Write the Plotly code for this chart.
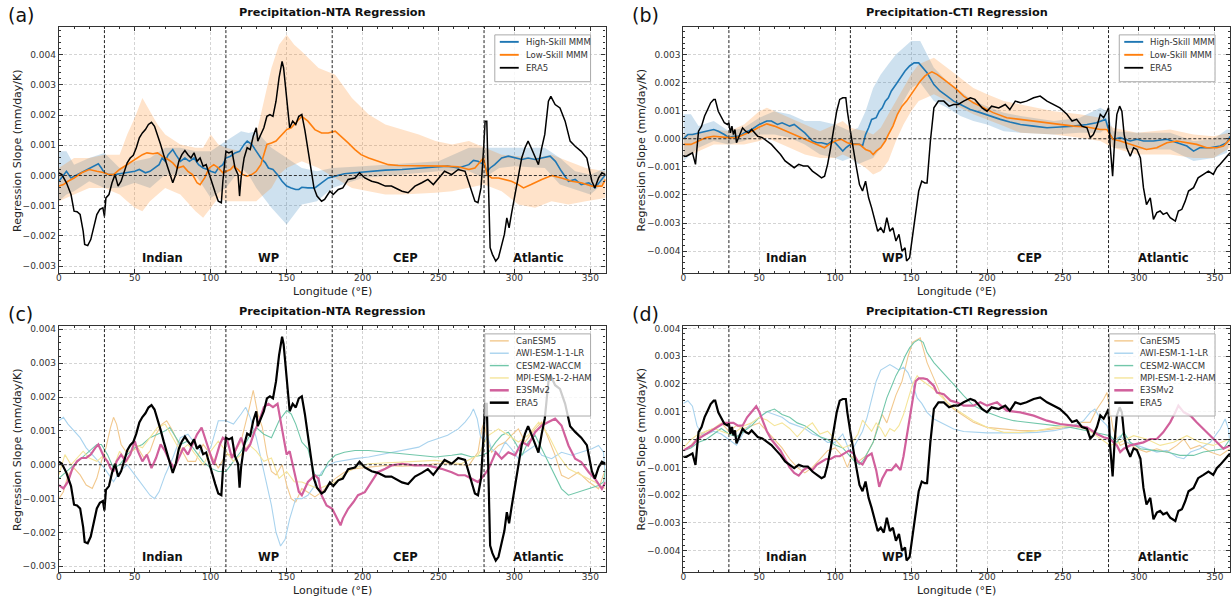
import numpy as np
import plotly.graph_objects as go

S = 1e-3  # values below are in units of 0.001 mm/day/K

# ---------------- ERA5 (NTA) ----------------
era5_nta_lon = [0,2,5,8,10,12,14,16,17,19,21,23,25,27,29,30,31,33,35,37,39,41,43,45,47,49,51,53,55,57,59,61,63,65,67,69,71,73,75,77,79,81,83,85,87,89,91,93,95,97,99,101,103,105,107,108,110,112,114,116,118,119,120,122,124,126,128,130,131,133,135,137,139,141,143,145,147,148,150,152,154,156,158,160,162,164,166,168,170,173,175,178.5,180.7,184,187,190.5,195,198,201.5,206,210,215,219,226,230,234.5,239,243,246.6,250,254,258.7,263,267.5,271,274,276,278,279.6,280.7,281.8,283,284,285.5,287.7,289.5,291.6,293.4,295,296.5,298,300.4,302.6,304.8,307,309,311,313.6,315.8,318,320,322.4,324,326.8,330,333.4,336.7,340,344,347.7,351,353,355.4,357.6,360]
era5_nta_val = [0.09,0.03,-0.24,-0.63,-1.18,-1.20,-1.29,-1.84,-2.28,-2.32,-2.12,-1.73,-1.29,-1.12,-1.07,-1.35,-0.74,-0.63,-0.24,0.03,-0.35,-0.19,0.14,0.42,0.58,0.67,0.92,1.25,1.41,1.52,1.69,1.76,1.63,1.36,1.03,0.69,0.36,0.03,-0.24,0.03,0.47,0.69,0.83,0.69,0.58,0.75,0.47,0.58,0.31,0.36,0.03,-0.30,-0.57,-0.85,-0.90,-0.19,0.80,0.75,0.80,0.25,0.03,-0.68,-0.08,0.58,0.92,0.86,1.30,1.58,1.14,1.36,1.58,1.96,2.02,1.96,2.46,3.23,3.78,3.56,2.57,1.58,1.80,1.69,1.96,2.02,1.50,0.90,0.25,-0.41,-0.68,-0.85,-0.79,-0.52,-0.63,-0.46,-0.41,-0.13,-0.08,0.09,-0.08,-0.19,-0.24,-0.35,-0.35,-0.52,-0.57,-0.35,-0.24,-0.13,-0.30,-0.08,0.14,0.03,0.20,0.14,-0.41,-0.85,-0.90,-0.41,0.80,1.80,1.80,-0.41,-2.39,-2.61,-2.83,-2.72,-2.28,-1.95,-1.40,-1.73,-1.29,-0.63,-0.08,0.58,0.92,1.14,0.92,0.58,0.36,0.92,1.36,2.46,2.62,2.35,2.24,1.80,1.14,0.97,0.80,0.58,-0.19,-0.41,-0.08,0.09,0.03]

# ---------------- ERA5 (CTI) ----------------
era5_cti_lon = [0,2,4,6,8,9,10,12,14,16,18,20,21,23,25,27,29,30,31,32,33,34,35,37,39,41,43,45,47,49,52,55,58,61,64,67,70,73,76,79,82,85,88,91,93,95,97,99,101,103,105,107,108,110,112,114,116,118,120,122,124,126,128,130,132,134,136,138,140,142,144,146,147,149,151,153,155,157,159,160.5,162.7,165,168,171.5,175,178,181,184.6,189,192,196.7,200,203,207.7,212,215,218.6,222,226,230.7,235,239.5,244,248,252.6,256,259,262.5,265.8,268,270,272.4,274.6,276.8,279,280,281,282.7,284,285.5,287.3,288.8,290.3,292,294.3,296.5,298.7,301,303,305,307.5,309.6,311.8,314,316,318.4,320.6,322.8,324,326,328.3,330.5,332.7,336,339,342.5,345.8,349,351.3,353.5,356.8,360]
era5_cti_val = [-0.62,-0.62,-0.56,-0.50,-0.91,-0.32,0.27,0.45,0.81,1.04,1.28,1.40,1.40,0.98,0.75,0.57,0.51,0.57,0.21,0.45,0.15,0.33,-0.14,0.15,0.39,0.27,0.21,0.33,0.21,0.09,0.04,-0.08,-0.20,-0.38,-0.56,-0.79,-0.91,-1.03,-0.91,-0.97,-0.97,-1.15,-1.27,-1.39,-1.33,-0.91,-0.32,0.39,0.98,1.40,1.46,1.46,0.98,0.27,-0.44,-1.03,-1.63,-1.86,-1.51,-2.10,-2.46,-2.93,-3.29,-3.17,-3.35,-2.81,-3.29,-3.17,-3.64,-3.40,-4.00,-3.88,-4.35,-4.23,-3.40,-2.69,-1.86,-1.51,-1.57,-1.57,-0.08,1.10,1.34,1.34,1.16,1.22,1.22,1.34,1.46,1.40,1.10,0.98,1.16,1.10,1.22,1.04,1.34,1.28,1.34,1.46,1.52,1.34,1.22,1.10,0.87,0.63,0.69,0.45,0.39,0.04,0.15,0.45,0.87,0.75,0.98,1.10,-0.20,-1.33,-0.08,0.87,1.16,0.98,0.15,-0.32,-0.62,-0.32,-0.38,-0.68,-1.74,-2.34,-2.10,-2.87,-2.63,-2.57,-2.69,-2.63,-2.81,-2.87,-2.93,-2.57,-2.51,-2.22,-1.86,-1.74,-1.39,-1.27,-1.15,-1.27,-1.03,-0.91,-0.68,-0.50]

# ---------------- Panel (a): MMM for NTA ----------------
hs_nta_lon = [0,5,8,12,17,20,23,26,28,30,33,37,40,45,50,53,57,60,63,66,68,70,72,75,77,80,83,86,89,92,95,98,100,103,105,108,110,113,116,119,122,124,127,130,133,136,138,141,144,147,150,153,156,158,160,164,168.6,173,177.4,182,188,195,204,215,226,237,248,256,263,270,273,276,280,282,284,287,291.6,296,300,305,309,313.6,318,323.5,327,331,335.6,340,344,349,353,356.6,360]
hs_nta_val = [-0.19,0.14,-0.08,0.03,0.14,0.25,0.31,0.39,0.25,0.09,0.03,0.03,0.06,0.09,0.14,0.20,0.09,0.14,0.25,0.36,0.58,0.47,0.69,0.86,0.69,0.47,0.58,0.47,0.58,0.36,0.25,0.20,0.14,0.09,0.25,0.36,0.58,0.64,0.75,0.80,1.03,1.14,1.03,0.80,0.58,0.42,0.25,0.20,0.03,-0.19,-0.35,-0.41,-0.46,-0.46,-0.39,-0.41,-0.41,-0.24,-0.08,-0.02,0.06,0.09,0.14,0.18,0.20,0.25,0.28,0.31,0.25,0.36,0.50,0.47,0.36,0.14,0.25,0.36,0.58,0.64,0.58,0.53,0.58,0.53,0.58,0.64,0.47,0.14,-0.19,-0.13,-0.30,-0.24,-0.41,-0.19,0.03]
hs_nta_band_lon = [0,5,10,20,30,40,50,60,70,80,90,100,110,120,125,130,140,150,160,170,180,200,250,270,280,290,300,320,330,340,350,360]
hs_nta_hi = [0.80,0.80,0.36,0.58,0.75,0.25,0.47,0.58,0.92,0.92,0.80,0.80,1.14,1.47,1.41,1.47,0.92,0.58,0.25,0.14,0.25,0.31,0.47,0.92,0.92,0.92,0.92,0.92,0.58,0.14,0.03,0.25]
hs_nta_lo = [-0.85,-0.63,-0.52,-0.19,-0.41,-0.41,-0.24,-0.41,0.03,0.03,0.03,-0.74,-0.41,0.25,0.03,-0.41,-1.07,-1.62,-0.96,-0.85,-0.41,-0.08,0.14,0.14,-0.08,0.25,0.31,0.25,-0.30,-0.46,-0.63,-0.19]

ls_nta_lon = [0,3,6,10,15,20,25,30,33,36,40,45,50,53,55,58,62,65,68,72,75,78,82,85,88,91,93,96,99,102,105,108,110,113,115,118,121,124,127,130,133,135,137,140,143,145,147,150,153,156,158,160,164,168.6,173,177.4,182,186,190.5,195,199,204,210,217,223.5,232,243,254,263,270,274,277,279.6,282,285,289.5,294,298,302.6,306,311,318,324.5,331,337.7,344,351,357.6,360]
ls_nta_val = [-0.35,-0.30,-0.19,-0.08,0.09,0.20,0.14,0.09,0.03,0.03,0.20,0.36,0.53,0.64,0.69,0.75,0.72,0.75,0.64,0.53,0.42,0.25,0.31,0.14,0.03,-0.24,-0.30,-0.08,0.25,0.36,0.25,0.09,0.14,0.20,0.31,0.20,0.03,-0.02,0.03,0.14,0.36,0.69,1.03,1.08,1.14,1.25,1.36,1.52,1.58,1.74,1.85,1.96,1.80,1.52,1.41,1.41,1.47,1.30,1.08,0.86,0.69,0.58,0.47,0.36,0.33,0.33,0.33,0.31,0.29,0.20,0.25,0.42,0.58,0.03,-0.08,-0.08,-0.13,-0.19,-0.30,-0.41,-0.30,-0.13,0.00,-0.08,-0.19,-0.24,-0.35,-0.35,-0.13]
ls_nta_band_lon = [0,10,20,30,40,45,50,55,60,65,70,80,90,95,100,105,110,120,130,135,140,145,150,155,160,171,182,193,204,215,226,237,248,259,270,280,291.6,302.6,313.6,324.5,335.6,347,360]
ls_nta_hi = [0.25,0.58,0.58,0.69,0.69,1.36,1.91,2.57,2.13,1.69,1.36,1.03,0.92,0.92,1.36,1.03,0.92,0.80,1.36,2.46,3.56,4.33,4.66,4.33,4.11,3.56,3.34,2.57,2.02,1.69,1.52,1.36,1.14,1.03,1.14,0.92,0.69,0.64,0.58,0.69,0.47,0.25,0.14]
ls_nta_lo = [-0.85,-0.63,-0.41,-0.41,-0.63,-0.85,-1.07,-1.18,-0.85,-0.63,-0.41,-0.63,-1.18,-1.40,-1.07,-0.74,-0.85,-0.85,-0.85,-0.63,-0.41,0.03,0.25,0.36,0.47,0.25,-0.08,-0.41,-0.52,-0.63,-0.63,-0.61,-0.57,-0.52,-0.41,-0.30,-0.52,-0.96,-1.07,-0.85,-0.96,-0.85,-0.74]

# ---------------- Panel (b): MMM for CTI ----------------
hs_cti_lon = [0,3,6,10,15,20,23,27,30,33,37,40,45,50,55,58,62,65,70,73,77,80,85,88,91,95,98,100,103,105,107,110,113,116,118,120,122,124,127,129,131,133,135,137,140,143,146,149,152,155,158,160.5,165,169,173.7,178,182.5,189,195.6,202,208.8,215,222,230.7,239.5,248,257,265.8,272,278,281,283,287.7,294.3,298.7,303,309.6,318.4,325,331.6,336,340,347,353.5,357.9,360]
hs_cti_val = [0.00,0.15,0.15,0.21,0.27,0.33,0.27,0.15,0.04,0.09,0.09,0.21,0.33,0.51,0.63,0.63,0.51,0.57,0.45,0.51,0.33,0.21,-0.08,-0.14,-0.14,-0.20,-0.08,-0.14,-0.32,-0.44,-0.32,-0.20,-0.18,-0.20,-0.26,0.15,0.39,0.69,0.75,0.98,1.10,1.34,1.46,1.70,1.93,2.17,2.41,2.59,2.70,2.70,2.53,2.35,1.93,1.70,1.52,1.34,1.22,1.04,0.93,0.81,0.69,0.60,0.51,0.45,0.39,0.42,0.45,0.51,0.57,0.69,0.15,-0.02,0.04,-0.08,-0.02,-0.08,-0.08,-0.02,-0.14,-0.26,-0.44,-0.32,-0.32,-0.26,-0.14,0.09]
hs_cti_band_lon = [0,5,10,20,30,40,50,60,70,80,90,100,105,110,115,120,125,130,135,140,145,150,156,165,173.7,182.5,191,200,211,222,244,261,274.6,279,283,298.7,320.6,336,349,357.9,360]
hs_cti_hi = [0.87,0.87,0.45,0.63,0.27,0.39,0.75,0.98,0.87,0.63,0.63,0.51,0.39,0.27,0.39,0.98,1.81,2.29,2.65,3.00,3.24,3.48,3.48,2.53,2.05,1.70,1.34,1.16,0.93,0.81,0.63,0.75,1.10,0.98,0.27,0.21,0.21,-0.08,-0.02,0.33,0.33]
hs_cti_lo = [-0.79,-0.56,-0.32,-0.08,-0.20,-0.08,0.15,0.15,0.04,-0.20,-0.56,-0.68,-0.79,-0.68,-0.91,-0.79,-0.68,-0.32,0.15,0.75,1.34,1.81,1.99,1.34,1.10,0.81,0.63,0.51,0.27,0.21,0.15,0.21,0.21,0.39,-0.32,-0.38,-0.38,-0.79,-0.68,-0.50,-0.08]

ls_cti_lon = [0,5,10,15,20,25,30,35,40,45,50,55,60,65,70,75,80,85,90,93,96,100,104,108,112,116,120,123,125,127,130,133,135,138,141,144,147,150,153,156,159,160.5,163.7,167,171.5,176,180,184.6,191,198,204,213,222,230.7,239.5,248,257,265.8,274.6,279,283,287.7,294.3,301,305,311.8,318.4,325,331.6,338,344.7,351.3,355.7,360]
ls_cti_val = [-0.20,-0.20,-0.08,0.04,0.09,0.06,0.04,0.04,0.15,0.27,0.42,0.53,0.45,0.33,0.21,0.09,-0.02,-0.14,-0.26,-0.32,-0.20,-0.08,-0.02,-0.14,-0.20,-0.20,-0.38,-0.44,-0.56,-0.44,-0.32,-0.08,0.15,0.45,0.87,1.16,1.34,1.58,1.81,2.05,2.23,2.29,2.38,2.29,2.11,1.93,1.76,1.52,1.28,1.10,0.93,0.75,0.69,0.63,0.57,0.51,0.45,0.42,0.33,0.33,-0.02,-0.08,-0.20,-0.32,-0.38,-0.32,-0.14,-0.08,-0.14,-0.20,-0.32,-0.32,-0.26,-0.02]
ls_cti_band_lon = [0,10,20,30,40,50,55,60,70,80,90,100,105,110,120,125,130,135,140,145,150,155,160,165,173.7,182.5,191,200,211,222,244,261,274.6,283,298.7,320.6,336,349,360]
ls_cti_hi = [0.15,0.21,0.33,0.27,0.51,0.98,1.10,0.98,0.75,0.51,0.27,0.51,0.63,0.39,0.27,0.15,0.39,0.87,1.34,1.81,2.29,2.65,2.76,2.88,2.53,2.17,1.81,1.58,1.34,1.22,0.98,0.87,0.75,0.39,0.21,0.33,0.15,0.09,0.21]
ls_cti_lo = [-0.68,-0.44,-0.20,-0.20,-0.20,-0.08,0.04,-0.08,-0.32,-0.56,-0.68,-0.68,-0.56,-0.68,-1.03,-1.27,-1.15,-0.79,-0.08,0.51,0.98,1.34,1.46,1.58,1.34,1.10,0.87,0.69,0.45,0.21,0.15,0.04,-0.08,-0.32,-0.56,-0.56,-0.68,-0.68,-0.32]

# ---------------- Panel (c): individual models, NTA ----------------
can_nta_lon = [0,3,6,10,14,18,22,25,28,31,34,36,38,41,44,48,52,56,60,64,68,71,75,80,85,90,95,100,105,110,115,120,125,128,131,134,137,140,143,147,150,153,156,160,164,168.6,173,177.4,182,188,195,204,215,226,237,248,258.7,270,276,278.5,280,282,285,289.5,294,298,302.6,307,313.6,318,322.4,326.8,331,335.6,342,349,355.4,360]
can_nta_val = [-1.0,-0.8,-0.3,-0.1,-0.3,-0.6,-0.7,-0.4,0.1,0.5,1.1,1.4,1.2,0.6,0.4,0.4,0.5,0.2,0.4,0.9,1.2,1.3,1.0,0.5,0.1,0.1,0.6,0.3,-0.1,0.3,0.3,0.7,1.6,2.2,1.5,1.1,0.3,-0.2,-0.3,0.0,-0.6,-1.0,-1.1,-0.7,-0.81,-0.95,-0.81,-0.61,-0.41,-0.22,-0.12,-0.07,-0.02,-0.04,-0.02,0.03,0.03,-0.02,0.37,1.06,1.26,0.77,0.37,0.57,0.67,0.87,1.06,0.67,1.06,1.26,0.77,0.28,-0.31,-0.41,-0.22,-0.51,-0.71,-0.12]

awi_nta_lon = [0,3,6,10,14,18,22,26,30,33,36,40,45,50,55,60,63,66,70,75,80,85,90,95,100,105,110,115,120,123,126,130,133,136,140,143,146,149,152,156,160,164,168.6,173,177.4,182,188,195,204,215,226,237,243,250,256,263,267.5,271,273,275.5,277.5,280,282,285,289.5,294,298,302.6,307,313.6,318,324.5,331,337.7,344,351,355.4,358.7,360]
awi_nta_val = [1.3,1.4,1.2,1.0,0.8,0.5,0.3,0.1,-0.1,-0.3,-0.5,-0.2,0.0,-0.3,-0.6,-0.9,-1.0,-0.8,-0.3,0.2,0.8,0.9,0.6,0.3,0.5,1.3,1.3,1.2,1.5,1.7,1.4,0.8,0.2,-0.4,-1.2,-2.0,-2.4,-2.2,-1.6,-1.0,-1.0,-0.9,-0.61,-0.22,-0.02,0.08,0.13,0.18,0.23,0.32,0.42,0.52,0.67,0.77,0.87,1.06,1.26,1.46,1.65,1.36,0.87,0.67,0.87,0.47,0.28,0.67,0.47,0.18,0.37,0.57,0.28,0.18,0.37,0.28,0.37,0.47,0.57,0.37,-0.51]

cesm_nta_lon = [0,5,10,15,20,25,28,32,36,40,45,50,55,60,65,70,73,76,80,85,90,95,100,105,110,115,120,125,130,135,140,145,150,153,156,160,164,168.6,173,177.4,182,188,195,204,215,226,237,248,258.7,265,272,278.5,283,287.7,291.6,296,300.4,305,309,313.6,318,322.4,326.8,331,335.6,342,349,355.4,358.7,360]
cesm_nta_val = [-0.4,-0.2,0.0,0.2,0.4,0.6,0.6,0.3,-0.1,0.0,0.3,0.5,0.6,0.8,0.9,1.0,1.1,0.9,0.6,0.7,0.4,0.1,-0.1,-0.2,-0.2,0.1,0.4,0.8,1.1,0.9,0.8,1.3,1.6,1.5,1.2,0.67,0.47,-0.31,-0.31,0.08,0.28,0.37,0.42,0.42,0.37,0.32,0.28,0.23,0.28,0.32,0.23,0.28,0.37,0.67,0.87,0.96,0.67,0.28,0.67,0.87,0.47,0.08,-0.31,-0.71,-0.90,-0.81,-0.71,-0.61,-0.51,-0.12]

mpi_nta_lon = [0,4,8,12,16,20,25,30,35,40,45,50,55,60,65,70,75,80,85,90,95,100,105,110,115,120,125,130,135,140,145,150,155,160,171,182,193,204,226,248,265,276,283,289.5,296,302.6,309,316,322.4,329,335.6,344,353,360]
mpi_nta_val = [-0.3,0.3,0.0,0.2,0.4,0.2,0.1,0.3,-0.2,0.4,0.1,0.6,0.5,0.8,1.1,1.2,0.8,0.4,0.6,0.3,0.0,0.4,0.7,0.4,0.1,0.3,0.6,0.4,0.1,0.2,-0.4,-0.2,-0.5,-0.51,-0.71,-0.51,-0.12,0.03,0.08,0.13,0.03,0.28,0.87,1.06,0.87,0.67,0.87,1.26,0.87,0.28,-0.12,-0.31,-0.51,-0.71]

e3sm_nta_lon = [0,3,6,9,12,15,18,21,24,26,28,30,32,34,36,38,41,44,47,50,52,55,58,61,64,67,70,73,76,79,82,85,88,91,94,97,100,102,104,106,108,111,114,117,120,123,126,129,132,135,138,141,144,146,148,150,152,154,156,158,160,164,168.6,171,173,176.3,180,183,185.5,187,190.5,194,197,201.5,206,210,215,219,226,234.5,243,252,258.7,263,267.5,272,276,280,283,287.7,291.6,296,300.4,305,309,313.6,318,322.4,326.8,331,335.6,340,344,349,353,357.6,360]
e3sm_nta_val = [-0.6,-0.7,-0.5,-0.1,0.1,0.2,0.2,0.3,0.5,0.6,0.4,0.2,0.1,-0.1,-0.2,0.1,0.3,0.1,0.3,0.7,0.4,0.1,0.3,-0.1,0.2,0.6,0.4,0.1,-0.1,0.2,0.5,0.3,0.6,0.9,1.1,0.7,0.3,0.0,0.3,0.6,0.8,0.7,0.2,0.5,0.8,0.4,0.6,1.0,1.3,1.7,1.8,1.7,1.8,1.3,0.8,0.3,0.4,0.0,-0.4,-0.8,-0.9,-0.51,-0.31,-0.41,-0.90,-1.20,-1.30,-1.59,-1.79,-1.59,-1.30,-1.10,-0.90,-0.81,-0.51,-0.22,-0.12,-0.02,0.03,-0.02,-0.02,-0.12,-0.22,-0.31,-0.31,-0.41,-0.51,-0.31,-0.12,0.37,0.18,0.37,0.28,0.67,0.57,0.96,1.16,1.26,1.36,1.16,0.57,0.18,0.08,-0.22,-0.41,-0.71,-0.51]

# ---------------- Panel (d): individual models, CTI ----------------
can_cti_lon = [0,5,10,15,20,25,30,35,40,45,50,55,60,65,70,75,80,85,90,95,100,105,108,111,115,120,125,128,131,134,137,140,144,148,151,154,156,160.5,165,169,173.7,178,184.6,191,200,211,222,233,244,255,261,268,272.4,276.8,279,281,283,287.7,292,298.7,305,311.8,318.4,325,329.6,334,340,347,353.5,360]
can_cti_val = [-0.4,-0.2,0.1,0.3,0.4,0.6,0.3,0.5,0.4,0.5,0.6,0.3,0.0,-0.3,-0.7,-1.0,-1.2,-1.0,-0.7,-0.4,-0.3,-0.6,-1.0,-0.6,-0.8,-0.6,-0.1,0.5,0.9,0.6,1.1,1.6,2.1,3.0,3.5,3.6,3.66,2.77,2.17,1.69,1.34,1.10,0.86,0.62,0.44,0.38,0.32,0.32,0.38,0.44,0.62,0.62,1.10,1.46,1.69,1.10,0.38,-0.21,-0.10,-0.33,-0.45,-0.33,-0.45,-0.21,0.02,-0.33,-0.21,-0.45,-0.57,-0.33]

awi_cti_lon = [0,3,6,9,12,16,20,25,30,35,40,45,50,55,60,65,70,75,80,85,90,95,100,105,110,115,118,121,124,127,130,133,136,139,142,145,148,151,154,157,160.5,165,169,173.7,178,184.6,191,200,222,233,244,255,263.6,268,271,274.6,279,283,287.7,292,298.7,305,311.8,318.4,325,329.6,334,340,347,353.5,356.8,359,360]
awi_cti_val = [1.3,1.4,1.2,0.5,0.2,0.2,0.3,0.2,0.0,-0.2,0.3,0.6,0.8,1.0,0.9,0.8,0.6,0.5,0.4,0.2,0.1,-0.1,-0.1,0.2,-0.5,0.0,0.3,0.8,1.5,2.1,2.5,2.6,2.7,2.6,2.5,2.6,2.4,2.0,1.5,1.3,0.98,0.74,0.62,0.50,0.38,0.29,0.26,0.24,0.24,0.26,0.32,0.44,0.68,0.98,1.10,0.74,0.50,-0.10,0.14,-0.10,-0.21,-0.33,-0.45,-0.39,-0.63,-0.69,-0.45,-0.33,-0.10,0.38,0.74,0.38,-0.21]

cesm_cti_lon = [0,5,10,15,20,25,30,35,40,45,50,55,60,65,70,75,80,85,90,95,100,105,110,113,116,119,122,125,128,131,134,137,140,143,146,149,152,155,158,160.5,165,169,173.7,178,184.6,191,200,208.8,217.5,226,235,244,255,265.8,274.6,281,285.5,290,294.3,301,309.6,318.4,327,336,342.5,349,355.7,360]
cesm_cti_val = [-0.4,-0.3,-0.1,0.0,0.2,0.4,0.2,0.1,0.3,0.5,0.8,1.0,1.1,0.9,0.8,0.6,0.5,0.3,0.1,0.0,-0.2,-0.3,-0.6,-0.8,-0.9,-0.7,-0.4,-0.1,0.4,1.0,1.5,1.9,2.3,2.6,3.0,3.3,3.5,3.6,3.5,3.13,2.77,2.53,2.23,1.99,1.58,1.22,0.98,0.80,0.68,0.62,0.56,0.50,0.44,0.32,0.20,0.14,-0.10,0.26,-0.10,-0.33,-0.39,-0.45,-0.57,-0.57,-0.45,-0.39,-0.33,0.02]

mpi_cti_lon = [0,5,10,15,20,25,30,35,40,45,50,55,60,65,70,75,80,85,90,95,100,105,110,115,118,121,124,127,130,133,136,139,142,145,148,151,154,156,165,173.7,182.5,191,200,211,222,233,244,255,265.8,274.6,281,287.7,296.5,305,314,322.8,331.6,340,349,360]
mpi_cti_val = [-0.3,0.0,0.2,0.3,0.4,0.3,0.2,0.3,0.5,0.6,0.8,0.7,0.5,0.6,0.4,0.1,0.4,0.6,0.2,0.3,0.0,-0.3,-0.2,0.2,0.7,0.5,0.3,0.6,0.4,0.1,0.4,0.3,0.5,0.9,1.5,2.0,2.3,2.17,1.81,1.34,0.98,0.68,0.44,0.26,0.26,0.32,0.44,0.50,0.38,0.02,-0.21,-0.10,0.14,0.02,-0.21,-0.10,0.14,-0.10,-0.21,0.02]

e3sm_cti_lon = [0,3,6,9,12,15,18,21,24,27,30,33,36,39,42,45,48,50,52,55,58,61,64,67,70,73,76,79,82,85,88,91,94,97,100,103,106,109,112,115,118,121,124,127,129,131,134,137,140,143,145,147,149,151,153,155,158,160.5,165,167,171.5,176,180,184.6,191,195.6,200,206.6,213,222,230.7,239.5,248,257,265.8,272.4,276.8,281,285.5,287.7,290,294.3,298.7,303,307.5,311.8,316,320.6,324,326,329.6,334,338,342.5,347,351.3,355.7,360]
e3sm_cti_val = [-0.4,-0.3,-0.2,0.0,0.1,0.2,0.3,0.4,0.5,0.6,0.6,0.6,0.5,0.5,0.8,1.0,1.2,1.0,0.7,0.3,0.0,-0.2,-0.4,-0.7,-1.0,-1.2,-1.3,-1.1,-1.0,-1.1,-0.9,-0.8,-0.7,-0.7,-0.6,-0.6,-0.5,-0.4,-0.5,-0.8,-0.9,-0.6,-0.5,-1.1,-1.7,-1.4,-1.1,-1.1,-0.9,-1.1,-0.6,0.1,0.8,1.5,2.1,2.2,2.2,2.17,1.93,1.69,1.63,1.40,1.34,1.22,1.22,1.34,1.22,1.34,1.04,0.98,0.86,0.68,0.56,0.50,0.44,0.20,0.08,0.02,-0.21,-0.45,-0.33,-0.21,-0.16,-0.10,0.02,0.02,0.26,0.62,0.98,1.22,0.98,0.86,0.62,0.38,0.14,-0.10,-0.33,-0.21]

# ---------------- labels ----------------
regions = ["Indian", "WP", "CEP", "Atlantic"]
region_centers = [68, 138, 228, 316]
region_bounds = [30, 110, 180, 280]
panel_tags = ["(a)", "(b)", "(c)", "(d)"]
panel_titles = ["Precipitation-NTA Regression", "Precipitation-CTI Regression",
                "Precipitation-NTA Regression", "Precipitation-CTI Regression"]
model_names = ["CanESM5", "AWI-ESM-1-1-LR", "CESM2-WACCM", "MPI-ESM-1-2-HAM", "E3SMv2"]
model_colors = ["#f2c98f", "#a9d3ee", "#72c7aa", "#f5e59a", "#d1609c"]
mmm_names = ["High-Skill MMM", "Low-Skill MMM", "ERA5"]
y_tick_vals = [-0.004, -0.003, -0.002, -0.001, 0.0, 0.001, 0.002, 0.003, 0.004]
y_tick_text = ["\u22120.004", "\u22120.003", "\u22120.002", "\u22120.001", "0.000",
               "0.001", "0.002", "0.003", "0.004"]

W, H = 1231, 601
BLUE = "#1f77b4"
ORANGE = "#ff7f0e"
FONT = "DejaVu Sans"

# plot-area boxes in pixels: (left, right, top, bottom)
boxes = [(56, 604, 25, 272), (682, 1230, 25, 272), (56, 604, 325, 572), (682, 1230, 325, 572)]
yranges = [(-0.00323, 0.00492), (-0.00478, 0.00398), (-0.00317, 0.00410), (-0.00477, 0.00409)]

fig = go.Figure()

def arr(v):
    return np.array(v, dtype=float) * S

def band(xa, lo, hi, color, ax):
    xs = list(xa) + list(xa)[::-1]
    ys = list(arr(hi)) + list(arr(lo))[::-1]
    fig.add_trace(go.Scatter(x=xs, y=ys, fill="toself", fillcolor=color, line=dict(width=0),
                             mode="lines", hoverinfo="skip", showlegend=False,
                             xaxis="x" + ax, yaxis="y" + ax))

def line(xa, ya, color, width, name, ax):
    fig.add_trace(go.Scatter(x=xa, y=arr(ya), mode="lines", line=dict(color=color, width=width),
                             name=name, showlegend=False,
                             xaxis="x" + ax, yaxis="y" + ax))

# panel (a)
band(hs_nta_band_lon, hs_nta_lo, hs_nta_hi, "rgba(31,119,180,0.22)", "")
band(ls_nta_band_lon, ls_nta_lo, ls_nta_hi, "rgba(255,127,14,0.22)", "")
line(hs_nta_lon, hs_nta_val, BLUE, 1.6, "High-Skill MMM", "")
line(ls_nta_lon, ls_nta_val, ORANGE, 1.6, "Low-Skill MMM", "")
line(era5_nta_lon, era5_nta_val, "black", 1.5, "ERA5", "")

# panel (b)
band(hs_cti_band_lon, hs_cti_lo, hs_cti_hi, "rgba(31,119,180,0.22)", "2")
band(ls_cti_band_lon, ls_cti_lo, ls_cti_hi, "rgba(255,127,14,0.22)", "2")
line(hs_cti_lon, hs_cti_val, BLUE, 1.6, "High-Skill MMM", "2")
line(ls_cti_lon, ls_cti_val, ORANGE, 1.6, "Low-Skill MMM", "2")
line(era5_cti_lon, era5_cti_val, "black", 1.5, "ERA5", "2")

# panel (c)
nta_models = [(can_nta_lon, can_nta_val), (awi_nta_lon, awi_nta_val), (cesm_nta_lon, cesm_nta_val),
              (mpi_nta_lon, mpi_nta_val), (e3sm_nta_lon, e3sm_nta_val)]
for (lx, ly), nm, col in zip(nta_models, model_names, model_colors):
    line(lx, ly, col, 2.2 if nm == "E3SMv2" else 1.1, nm, "3")
line(era5_nta_lon, era5_nta_val, "black", 2.2, "ERA5", "3")

# panel (d)
cti_models = [(can_cti_lon, can_cti_val), (awi_cti_lon, awi_cti_val), (cesm_cti_lon, cesm_cti_val),
              (mpi_cti_lon, mpi_cti_val), (e3sm_cti_lon, e3sm_cti_val)]
for (lx, ly), nm, col in zip(cti_models, model_names, model_colors):
    line(lx, ly, col, 2.2 if nm == "E3SMv2" else 1.1, nm, "4")
line(era5_cti_lon, era5_cti_val, "black", 2.2, "ERA5", "4")

layout = dict(width=W, height=H, margin=dict(l=0, r=0, t=0, b=0),
              paper_bgcolor="white", plot_bgcolor="white",
              font=dict(family=FONT, color="#222", size=10), showlegend=False)

shapes = []
annotations = []
suffix = ["", "2", "3", "4"]

def px_x(x):
    return x / W

def px_y(y):
    return 1 - y / H

legend_specs = [
    (mmm_names, [BLUE, ORANGE, "black"], [1.6, 1.6, 1.5]),
    (mmm_names, [BLUE, ORANGE, "black"], [1.6, 1.6, 1.5]),
    (model_names + ["ERA5"], model_colors + ["black"], [1.1, 1.1, 1.1, 1.1, 2.2, 2.2]),
    (model_names + ["ERA5"], model_colors + ["black"], [1.1, 1.1, 1.1, 1.1, 2.2, 2.2]),
]

for i, (l, r, t, b) in enumerate(boxes):
    s = suffix[i]
    xd = [l / W, r / W]
    yd = [1 - b / H, 1 - t / H]
    common = dict(showline=True, linecolor="#333", linewidth=1.3, mirror="allticks",
                  ticks="inside", ticklen=4, tickcolor="#333", tickwidth=1,
                  showgrid=True, gridcolor="#d4d4d4", griddash="3px,2px", gridwidth=0.8,
                  zeroline=False, tickfont=dict(size=9, color="#333", family=FONT))
    layout["xaxis" + s] = dict(domain=xd, range=[0, 360], dtick=50, tick0=0,
                               anchor="y" + s, ticklabelstandoff=-4,
                               minor=dict(ticks="inside", dtick=10, ticklen=2, tickcolor="#333",
                                          showgrid=False), **common)
    layout["yaxis" + s] = dict(domain=yd, range=list(yranges[i]), tickmode="array",
                               tickvals=y_tick_vals, ticktext=y_tick_text, anchor="x" + s,
                               minor=dict(ticks="inside", dtick=0.0002, ticklen=2, tickcolor="#333",
                                          showgrid=False), **common)
    xr = "x" + s
    yr = "y" + s
    for xb in region_bounds:
        shapes.append(dict(type="line", xref=xr, yref=yr + " domain", x0=xb, x1=xb, y0=0, y1=1,
                           line=dict(color="#222", width=1, dash="3px,2px")))
    shapes.append(dict(type="line", xref=xr + " domain", yref=yr, x0=0, x1=1, y0=0, y1=0,
                       line=dict(color="#222", width=0.9, dash="3px,2px")))
    for name, c in zip(regions, region_centers):
        annotations.append(dict(x=c, y=0.06, xref=xr, yref=yr + " domain", text="<b>%s</b>" % name,
                                showarrow=False, font=dict(size=11.5, color="#111", family=FONT),
                                xanchor="center", yanchor="middle"))
    cx = (l + r) / 2 / W
    annotations.append(dict(x=cx, y=px_y(t - 14), xref="paper", yref="paper",
                            text="<b>%s</b>" % panel_titles[i], showarrow=False,
                            font=dict(size=11.3, color="#111", family=FONT),
                            xanchor="center", yanchor="middle"))
    annotations.append(dict(x=px_x(l - 53), y=px_y(t - 12), xref="paper", yref="paper",
                            text=panel_tags[i], showarrow=False,
                            font=dict(size=19, color="#111", family=FONT),
                            xanchor="left", yanchor="middle"))
    annotations.append(dict(x=cx, y=px_y(b + 18), xref="paper", yref="paper",
                            text="Longitude (°E)", showarrow=False,
                            font=dict(size=11, color="#222", family=FONT),
                            xanchor="center", yanchor="middle"))
    annotations.append(dict(x=px_x(l - 42), y=px_y((t + b) / 2), xref="paper", yref="paper",
                            text="Regression Slope (mm/day/K)", showarrow=False, textangle=-90,
                            font=dict(size=11, color="#222", family=FONT),
                            xanchor="center", yanchor="middle"))

    # legend drawn in the upper-right corner of each panel
    names, cols, wids = legend_specs[i]
    n = len(names)
    step = 13.0 if n == 3 else 12.4
    bx0, bx1 = (r - 111 if n == 3 else r - 121), r - 15
    by0 = t + 8
    by1 = by0 + 8 + step * n
    shapes.append(dict(type="rect", xref="paper", yref="paper",
                       x0=px_x(bx0), x1=px_x(bx1), y0=px_y(by1), y1=px_y(by0),
                       fillcolor="rgba(255,255,255,0.8)", line=dict(color="#aaa", width=1)))
    for k, (nm, col, wd) in enumerate(zip(names, cols, wids)):
        yy = by0 + 7 + step * k
        shapes.append(dict(type="line", xref="paper", yref="paper",
                           x0=px_x(bx0 + 5), x1=px_x(bx0 + 24), y0=px_y(yy), y1=px_y(yy),
                           line=dict(color=col, width=wd + 0.3)))
        annotations.append(dict(x=px_x(bx0 + 29), y=px_y(yy), xref="paper", yref="paper",
                                text=nm, showarrow=False, xanchor="left", yanchor="middle",
                                font=dict(size=8.5, color="#333", family=FONT)))

layout["shapes"] = shapes
layout["annotations"] = annotations
fig.update_layout(**layout)
fig.write_html("out.html")
